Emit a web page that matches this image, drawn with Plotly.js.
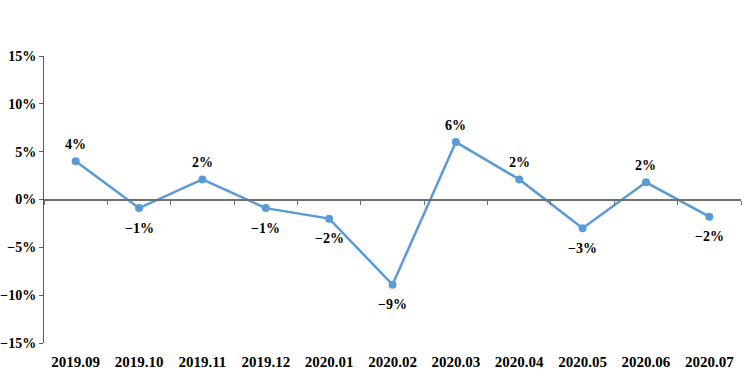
<!DOCTYPE html>
<html>
<head>
<meta charset="utf-8">
<script src="https://cdn.plot.ly/plotly-3.0.1.min.js"></script>
<style>html,body{margin:0;padding:0;background:#fff;}#chart{width:749px;height:392px;}</style>
</head>
<body>
<div id="chart"></div>
<script>
var categories = ["2019.09","2019.10","2019.11","2019.12","2020.01","2020.02","2020.03","2020.04","2020.05","2020.06","2020.07"];
var values = [4.0, -0.9, 2.1, -0.9, -2.0, -8.9, 6.0, 2.1, -3.0, 1.8, -1.8];
var yTicks = [-15, -10, -5, 0, 5, 10, 15];
var yTickText = ["\u221215%", "\u221210%", "\u22125%", "0%", "5%", "10%", "15%"];

var fontFam = "Liberation Serif";
var labels = values.map(function(v){
  var r = Math.round(v);
  return (r < 0 ? "\u2212" + Math.abs(r) : String(r)) + "%";
});

var trace = {
  x: categories, y: values, type: "scatter", mode: "lines+markers",
  line: {color: "#5b9bd5", width: 2.5},
  marker: {color: "#5b9bd5", size: 8},
  cliponaxis: false, hoverinfo: "none", showlegend: false
};
var axisTrace = {
  x: categories, y: values, xaxis: "x2", type: "scatter", mode: "none",
  hoverinfo: "none", showlegend: false
};

var annotations = [];
for (var i = 0; i < values.length; i++) {
  annotations.push({
    x: i, y: values[i], xref: "x", yref: "y", text: labels[i], showarrow: false,
    yshift: values[i] >= 0 ? 17 : -20,
    font: {family: fontFam, size: 14, color: "#000"}
  });
}

var layout = {
  width: 749, height: 392,
  margin: {l: 44, r: 8, t: 56, b: 49},
  paper_bgcolor: "#fff", plot_bgcolor: "#fff",
  font: {family: fontFam, size: 14, color: "#000", weight: "bold"},
  annotations: annotations,
  xaxis: {
    type: "category", showgrid: false, zeroline: false, showline: false,
    ticks: "", ticklabelstandoff: 8,
    tickfont: {family: fontFam, size: 15, color: "#000", weight: "bold"},
    range: [-0.5, 10.5], fixedrange: true
  },
  xaxis2: {
    type: "category", overlaying: "x", anchor: "free", position: 0.5, side: "bottom",
    showgrid: false, zeroline: false, showline: true, linecolor: "#6f6f6f", linewidth: 2,
    ticks: "outside", ticklen: 4, tickcolor: "#6f6f6f", tickwidth: 1, tickson: "boundaries",
    showticklabels: false, range: [-0.5, 10.5], fixedrange: true
  },
  yaxis: {
    range: [-15, 15], tickmode: "array", tickvals: yTicks, ticktext: yTickText,
    showgrid: false, zeroline: false, showline: true, linecolor: "#595959", linewidth: 1,
    ticks: "outside", ticklen: 4, tickcolor: "#595959",
    tickfont: {family: fontFam, size: 14, color: "#000", weight: "bold"},
    fixedrange: true
  }
};

Plotly.newPlot("chart", [axisTrace, trace], layout, {displayModeBar: false, staticPlot: true});
</script>
</body>
</html>
